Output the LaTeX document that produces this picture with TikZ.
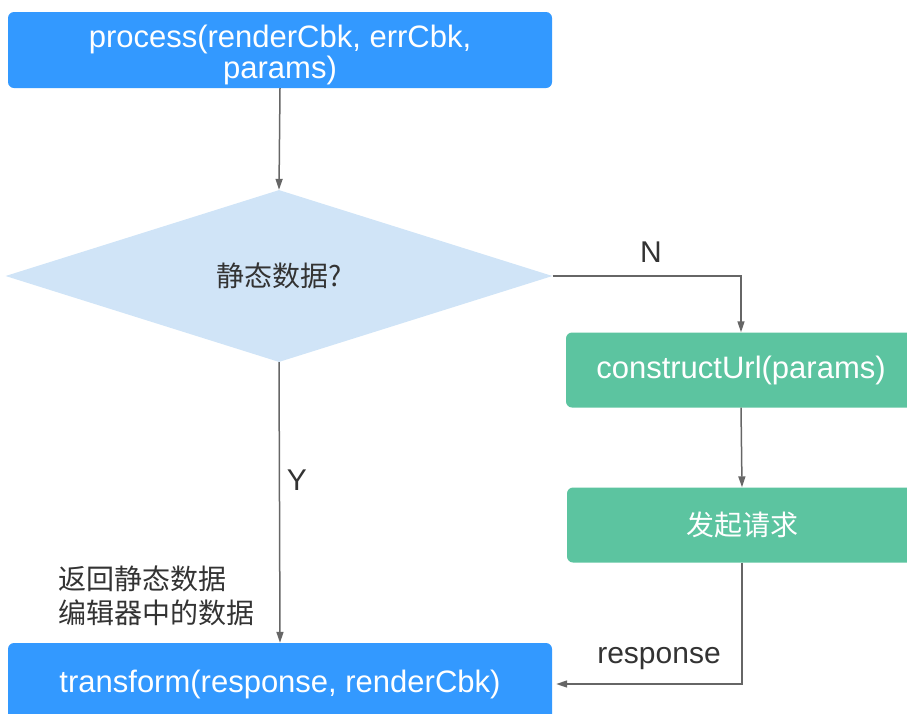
\documentclass[tikz,border=0pt]{standalone}
\usepackage{fontspec}
\setmainfont{Liberation Sans}
\newfontfamily\cjk{Noto Sans CJK SC}
\usetikzlibrary{shapes.geometric,arrows.meta}
\definecolor{boxblue}{RGB}{51,153,255}
\definecolor{boxgreen}{RGB}{92,196,160}
\definecolor{diafill}{RGB}{208,228,247}
\definecolor{linegray}{RGB}{102,102,102}
\definecolor{txtgray}{RGB}{51,51,51}
\tikzset{
  bluebox/.style={draw=none,fill=boxblue,rounded corners=6pt,text=white,inner sep=0pt,
    minimum width=544pt,minimum height=76pt,align=center,font=\fontsize{31}{31}\selectfont},
  greenbox/.style={draw=none,fill=boxgreen,rounded corners=6pt,text=white,inner sep=0pt,
    minimum width=350pt,minimum height=75pt,font=\fontsize{31}{31}\selectfont},
  decision/.style={diamond,draw=none,fill=diafill,inner sep=0pt,
    minimum width=547pt,minimum height=172pt,text=txtgray},
  conn/.style={draw=linegray,line width=1.5pt,-{Triangle[length=11pt,width=7pt]}},
  lbl/.style={text=txtgray,font=\fontsize{30}{30}\selectfont,inner sep=0pt},
}
\begin{document}
\begin{tikzpicture}[x=1pt,y=-1pt]
\useasboundingbox (0,0) rectangle (907,713);
\clip (0,0) rectangle (907,713);
\node[bluebox] (top) at (280,50) {};
\node[text=white,align=center,inner sep=0pt,font=\fontsize{31}{31}\selectfont] (toptext) at (280,54.5) {process(renderCbk, errCbk,\\[0pt]params)};
\node[decision] (dia) at (279,276) {\cjk\fontsize{28}{28}\selectfont 静态数据?};
\node[greenbox] (cu) at (741,370) {constructUrl(params)};
\node[greenbox] (req) at (742,525) {\cjk\fontsize{28}{28}\selectfont 发起请求};
\node[bluebox,minimum height=82pt] (bot) at (280,684) {transform(response, renderCbk)};
\node[lbl] (n) at (651,252) {N};
\node[lbl] (y) at (297,480) {Y};
\node[lbl] (resp) at (659,659) {response};
\node[text=txtgray,align=left,anchor=west,inner sep=0pt,font=\cjk\fontsize{28}{34}\selectfont] (note) at (58,596) {返回静态数据\\编辑器中的数据};
\draw[conn] (top.south) -- (dia.north);
\draw[conn] (dia.south) -- (bot.north);
\draw[conn] (dia.east) -| (cu.north);
\draw[conn] (cu.south) -- (req.north);
\draw[conn] (req.south) |- ([xshift=4pt]bot.east);
\end{tikzpicture}
\end{document}
